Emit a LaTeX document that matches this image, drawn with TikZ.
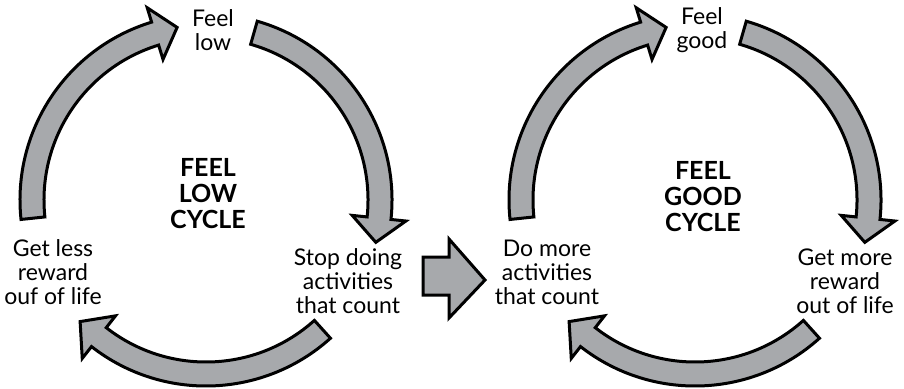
\documentclass[tikz,border=0pt]{standalone}
\usepackage{fontspec}
\setmainfont{Lato}
\definecolor{arrowgray}{HTML}{A7A9AC}
\usetikzlibrary{calc,positioning}

% curved block arrow round a centre: centre, start angle, head base angle, tip angle
\newcommand{\cyclearrow}[4]{%
  \draw[cycarrow] ($(#1)+(#2:186)$) arc[start angle=#2, end angle=#3, radius=186]
    -- ($(#1)+(#3:201)$) -- ($(#1)+(#4:175)$) -- ($(#1)+(#3:147)$)
    -- ($(#1)+(#3:162)$) arc[start angle=#3, end angle=#2, radius=162] -- cycle;}

\begin{document}
\begin{tikzpicture}[
      x=0.5pt, y=0.5pt,
      cycarrow/.style={draw=black, fill=arrowgray, line width=1.5pt,
                       line join=miter},
      lbl/.style={font=\fontsize{11.5}{12}\selectfont, align=center,
                  inner sep=0pt},
      ttl/.style={font=\fontsize{12.5}{13}\selectfont\bfseries, align=center,
                  inner sep=0pt}
  ]
    \useasboundingbox (0,0) rectangle (904,388);
    \coordinate (lowc) at (206,188);
    \coordinate (goodc) at (695,188);

    % feel low cycle
    \node[ttl] (lowttl) at (208,194) {FEEL\\LOW\\CYCLE};
    \node[lbl] (feellow) at (213,358) {Feel\\low};
    \node[lbl] (stopdoing) at (348,107) {Stop doing\\activities\\that count};
    \node[lbl] (getless) at (53,116) {Get less\\reward\\ouf of life};
    \cyclearrow{lowc}{186}{107}{99.5}
    \cyclearrow{lowc}{74}{-6}{-14}
    \cyclearrow{lowc}{-48}{-128}{-136}

    % switch arrow
    \draw[cycarrow] (423,131) -- (449,131) -- (449,149) -- (485,108)
      -- (449,70) -- (449,93) -- (423,93) -- cycle;

    % feel good cycle
    \node[ttl] (goodttl) at (703,191) {FEEL\\GOOD\\CYCLE};
    \node[lbl] (feelgood) at (702,358) {Feel\\good};
    \node[lbl] (domore) at (547,116) {Do more\\activities\\that count};
    \node[lbl] (getmore) at (845,107) {Get more\\reward\\out of life};
    \cyclearrow{goodc}{186}{107}{99.5}
    \cyclearrow{goodc}{74}{-6}{-14}
    \cyclearrow{goodc}{-48}{-128}{-136}
  \end{tikzpicture}
\end{document}
